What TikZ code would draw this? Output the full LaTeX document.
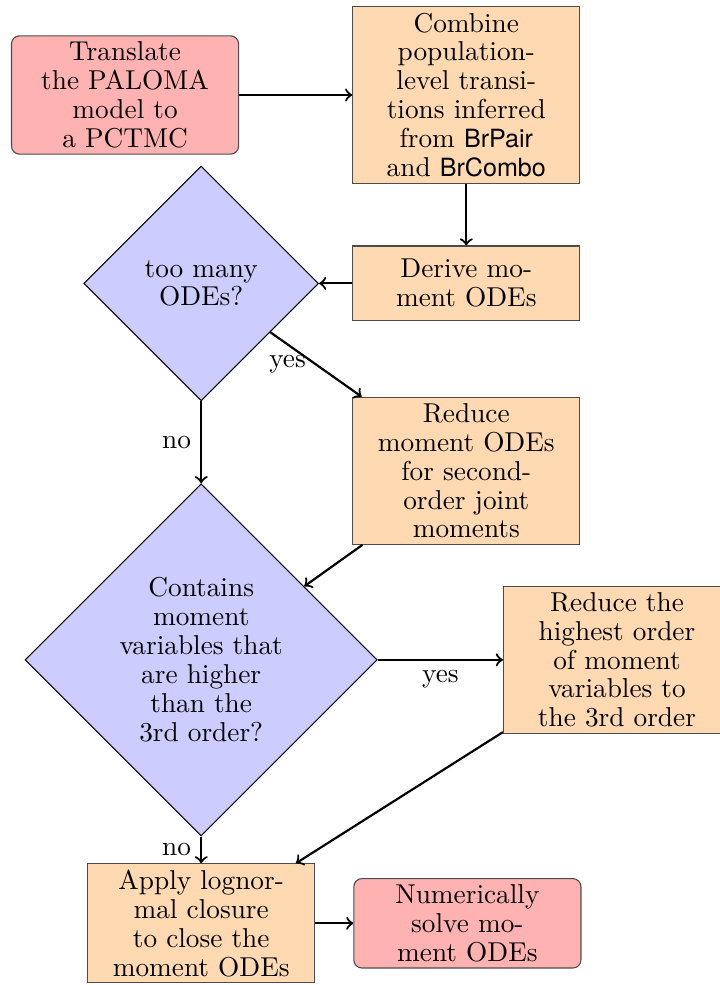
\documentclass[tikz,border=0pt]{standalone}
\usepackage{fontspec}
\setsansfont[Scale=0.92]{TeX Gyre Heros}
\usepackage{tikz}
\usetikzlibrary{arrows,shapes,positioning}

\begin{document}
\begin{tikzpicture}[
    font=\fontsize{10}{10.6}\selectfont,
    box/.style={rectangle, draw=black!70, fill=orange!30, text width=78.8pt, inner sep=2.2pt, align=center},
    term/.style={box, rounded corners=3pt, fill=red!30},
    decision/.style={diamond, draw, fill=blue!20, aspect=1, inner sep=0pt, align=center},
    line/.style={->, thick}
]
    \useasboundingbox (-45.8pt,34.8pt) rectangle (217.6pt,-326.0pt);

    \node (translate) [term] {Translate\\the PALOMA\\model to\\a PCTMC};
    \node (combine) [box, right=41.4pt of translate] {Combine\\population-\\level transi-\\tions inferred\\from \textsf{BrPair}\\and \textsf{BrCombo}};
    \node (derive) [box, below=22.6pt of combine, minimum height=27.4pt] {Derive mo-\\ment ODEs};
    \node (many) [decision, left=12.1pt of derive, minimum size=86pt] {too many\\ODEs?};
    \node (reducepair) [box, below=27.6pt of derive] {Reduce\\moment ODEs\\for second-\\order joint\\moments};
    \node (higher) [decision, below=30pt of many, minimum size=129pt] {Contains\\moment\\variables that\\are higher\\than the\\3rd order?};
    \node (reducehigh) [box, right=45.8pt of higher] {Reduce the\\highest order\\of moment\\variables to\\the 3rd order};
    \node (closure) [box, below=9.8pt of higher] {Apply lognor-\\mal closure\\to close the\\moment ODEs};
    \node (solve) [term, right=13.9pt of closure] {Numerically\\solve mo-\\ment ODEs};

    \draw[line] (translate) -- (combine);
    \draw[line] (combine) -- (derive);
    \draw[line] (derive) -- (many);
    \draw[line] (many) -- node[midway, left] (yes1) {yes} (reducepair);
    \draw[line] (many) -- node[midway, left] (no1) {no} (higher);
    \draw[line] (reducepair) -- (higher);
    \draw[line] (higher) -- node[midway, below] (yes2) {yes} (reducehigh);
    \draw[line] (higher) -- node[midway, left] (no2) {no} (closure);
    \draw[line] (reducehigh) -- (closure);
    \draw[line] (closure) -- (solve);
\end{tikzpicture}
\end{document}
